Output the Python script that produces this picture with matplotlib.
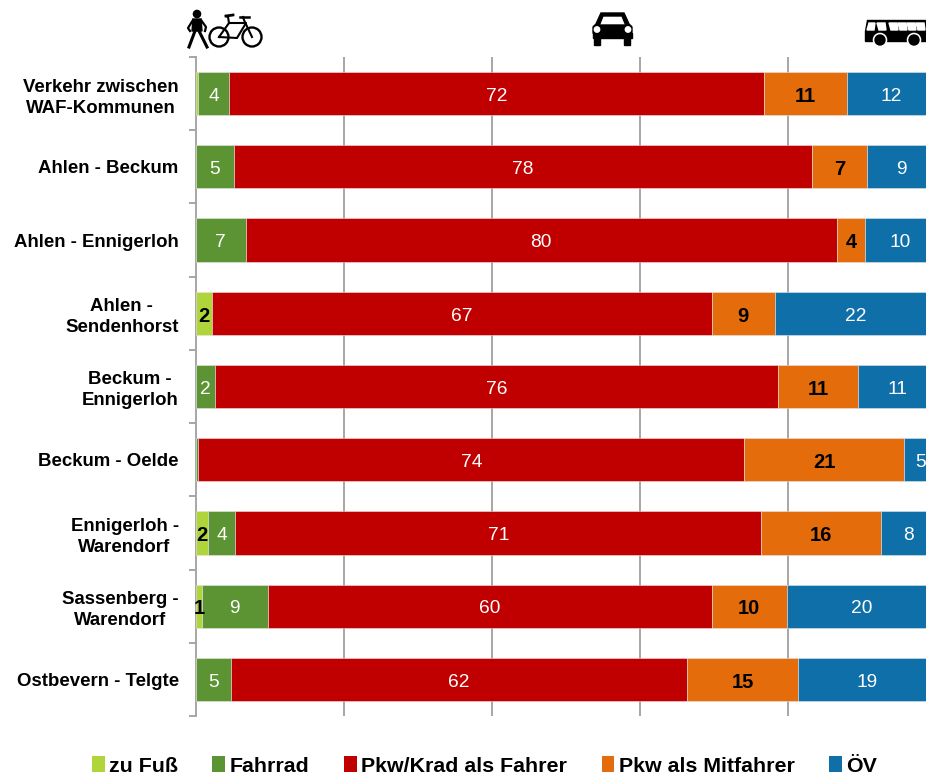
import matplotlib
matplotlib.use("Agg")
import matplotlib.pyplot as plt
from matplotlib.patches import Rectangle, Circle, Polygon, FancyBboxPatch, Patch
import numpy as np

plt.rcParams['font.family'] = ['Liberation Sans', 'DejaVu Sans']

categories = ["Verkehr zwischen\nWAF-Kommunen", "Ahlen - Beckum", "Ahlen - Ennigerloh",
              "Ahlen -\nSendenhorst", "Beckum -\nEnnigerloh", "Beckum - Oelde",
              "Ennigerloh -\nWarendorf", "Sassenberg -\nWarendorf", "Ostbevern - Telgte"]
series_names = ["zu Fuß", "Fahrrad", "Pkw/Krad als Fahrer", "Pkw als Mitfahrer", "ÖV"]
colors = ["#AFD53A", "#5C9433", "#C00000", "#E46C0A", "#0F6FA8"]

zu_fuss = [0.3, 0.0, 0.0, 2.1, 0.0, 0.0, 1.6, 0.8, 0.0]
fahrrad = [4.2, 5.1, 6.7, 0.0, 2.5, 0.3, 3.7, 8.9, 4.7]
fahrer = [72.3, 78.2, 79.9, 67.6, 76.2, 73.8, 71.1, 60.0, 61.6]
mitfahrer = [11.2, 7.4, 3.8, 8.5, 10.8, 21.6, 16.2, 10.1, 15.1]
oev = [12.0, 9.3, 9.6, 21.8, 10.5, 4.3, 7.4, 20.2, 18.6]
values = [zu_fuss, fahrrad, fahrer, mitfahrer, oev]

lab_fuss = ["", "", "", "2", "", "", "2", "1", ""]
lab_rad = ["4", "5", "7", "", "2", "", "4", "9", "5"]
lab_fahrer = ["72", "78", "80", "67", "76", "74", "71", "60", "62"]
lab_mit = ["11", "7", "4", "9", "11", "21", "16", "10", "15"]
lab_oev = ["12", "9", "10", "22", "11", "5", "8", "20", "19"]
labels = [lab_fuss, lab_rad, lab_fahrer, lab_mit, lab_oev]
label_style = [("black", "bold", 14.5), ("white", "normal", 13.8), ("white", "normal", 13.8),
               ("black", "bold", 14.5), ("white", "normal", 13.8)]

W, H = 926, 777
fig = plt.figure(figsize=(W / 100, H / 100), dpi=100, facecolor="white")
ax = fig.add_axes([196 / W, 1 - 716 / H, 730 / W, 659 / H])

y = np.arange(len(categories))
left = np.zeros(len(categories))
for vals, lab, col, (tc, tw, ts) in zip(values, labels, colors, label_style):
    vals = np.array(vals)
    ax.barh(y, vals, left=left, height=0.59, color=col, edgecolor="#e4e4e4", linewidth=0.4, zorder=3)
    for yi, v, l, t in zip(y, vals, left, lab):
        if t:
            ax.annotate(t, (l + v / 2, yi), xytext=(0, -2), textcoords="offset points",
                        color=tc, fontweight=tw, fontsize=ts,
                        ha="center", va="center", zorder=4, annotation_clip=False)
    left += vals

ax.set_xlim(0, 730 / 7.4)
ax.set_ylim(len(categories) - 0.5, -0.5)
ax.set_xticks([20, 40, 60, 80])
ax.tick_params(axis="x", length=0, labelbottom=False)
ax.xaxis.grid(True, color="#a6a6a6", linewidth=1.4, zorder=0)
ax.set_axisbelow(True)
ax.set_yticks(y)
ax.set_yticklabels(categories, fontsize=13.4, fontweight="bold", color="black",
                   linespacing=1.3, multialignment="center")
ax.tick_params(axis="y", which="major", length=0, pad=12.5)
ax.set_yticks(np.arange(-0.5, len(categories)), minor=True)
ax.tick_params(axis="y", which="minor", length=5, width=1.4, color="#a6a6a6")
for s in ["top", "right", "bottom"]:
    ax.spines[s].set_visible(False)
ax.spines["left"].set_color("#a6a6a6")
ax.spines["left"].set_linewidth(1.4)

handles = [Patch(facecolor=c, label=n) for c, n in zip(colors, series_names)]
fig.legend(handles=handles, loc="center", bbox_to_anchor=(484.5 / W, 1 - 766 / H), ncol=5, frameon=False,
           prop={"size": 15.4, "weight": "bold"}, handlelength=0.6, handleheight=0.75,
           handletextpad=0.2, columnspacing=1.62, borderpad=0, borderaxespad=0)

# Mode icons above the plot, in pixel coordinates
ov = fig.add_axes([0, 0, 1, 1], facecolor="none")
ov.set_xlim(0, W)
ov.set_ylim(H, 0)
ov.axis("off")
k = "black"
# pedestrian
ov.add_patch(Circle((197, 14), 3.6, color=k))
ov.add_patch(Polygon([(193, 19), (201, 19), (202, 31), (192, 31)], color=k))
ov.plot([193, 188, 190], [20, 28, 31], color=k, lw=1.6)
ov.plot([201, 206, 205], [20, 27, 31], color=k, lw=1.6)
ov.plot([195, 189], [31, 47], color=k, lw=2.2)
ov.plot([199, 207], [31, 47], color=k, lw=2.2)
# bicycle
for cx in (219, 252):
    ov.add_patch(Circle((cx, 37), 9.5, fill=False, ec=k, lw=1.7))
ov.plot([219, 229, 246, 237, 219], [37, 23, 23, 38, 37], color=k, lw=1.5)
ov.plot([229, 228, 226], [23, 17, 16], color=k, lw=1.5)
ov.plot([226, 233], [16, 15], color=k, lw=2)
ov.plot([252, 244, 243], [37, 20, 17], color=k, lw=1.5)
ov.plot([240, 249], [17, 17], color=k, lw=1.8)
# car
ov.add_patch(FancyBboxPatch((593, 25), 39, 10, boxstyle="round,pad=0,rounding_size=3", color=k))
ov.add_patch(Polygon([(595, 26), (601, 13), (624, 13), (630, 26), (626, 26), (622, 16), (603, 16), (599, 26)], color=k))
ov.add_patch(Rectangle((594, 37), 6, 8, color=k))
ov.add_patch(Rectangle((624, 37), 6, 8, color=k))
ov.add_patch(Rectangle((593, 33), 39, 5, color=k))
ov.add_patch(Circle((597, 29.5), 2.7, color="white"))
ov.add_patch(Circle((628, 29.5), 2.7, color="white"))
# bus
ov.add_patch(Polygon([(867, 20), (926, 20), (926, 41), (865, 41), (865, 31)], color=k))
for x0 in (878, 890, 899, 908, 917):
    ov.add_patch(Polygon([(x0 - 1, 23), (x0 + 7, 23), (x0 + 8, 30), (x0 + 1, 30)], color="white"))
ov.add_patch(Polygon([(869, 23), (875, 23), (874, 30), (867, 30)], color="white"))
for cx in (880, 914):
    ov.add_patch(Circle((cx, 40), 6.6, color="white"))
    ov.add_patch(Circle((cx, 40), 5, color=k))

fig.savefig("out.png", dpi=100)
